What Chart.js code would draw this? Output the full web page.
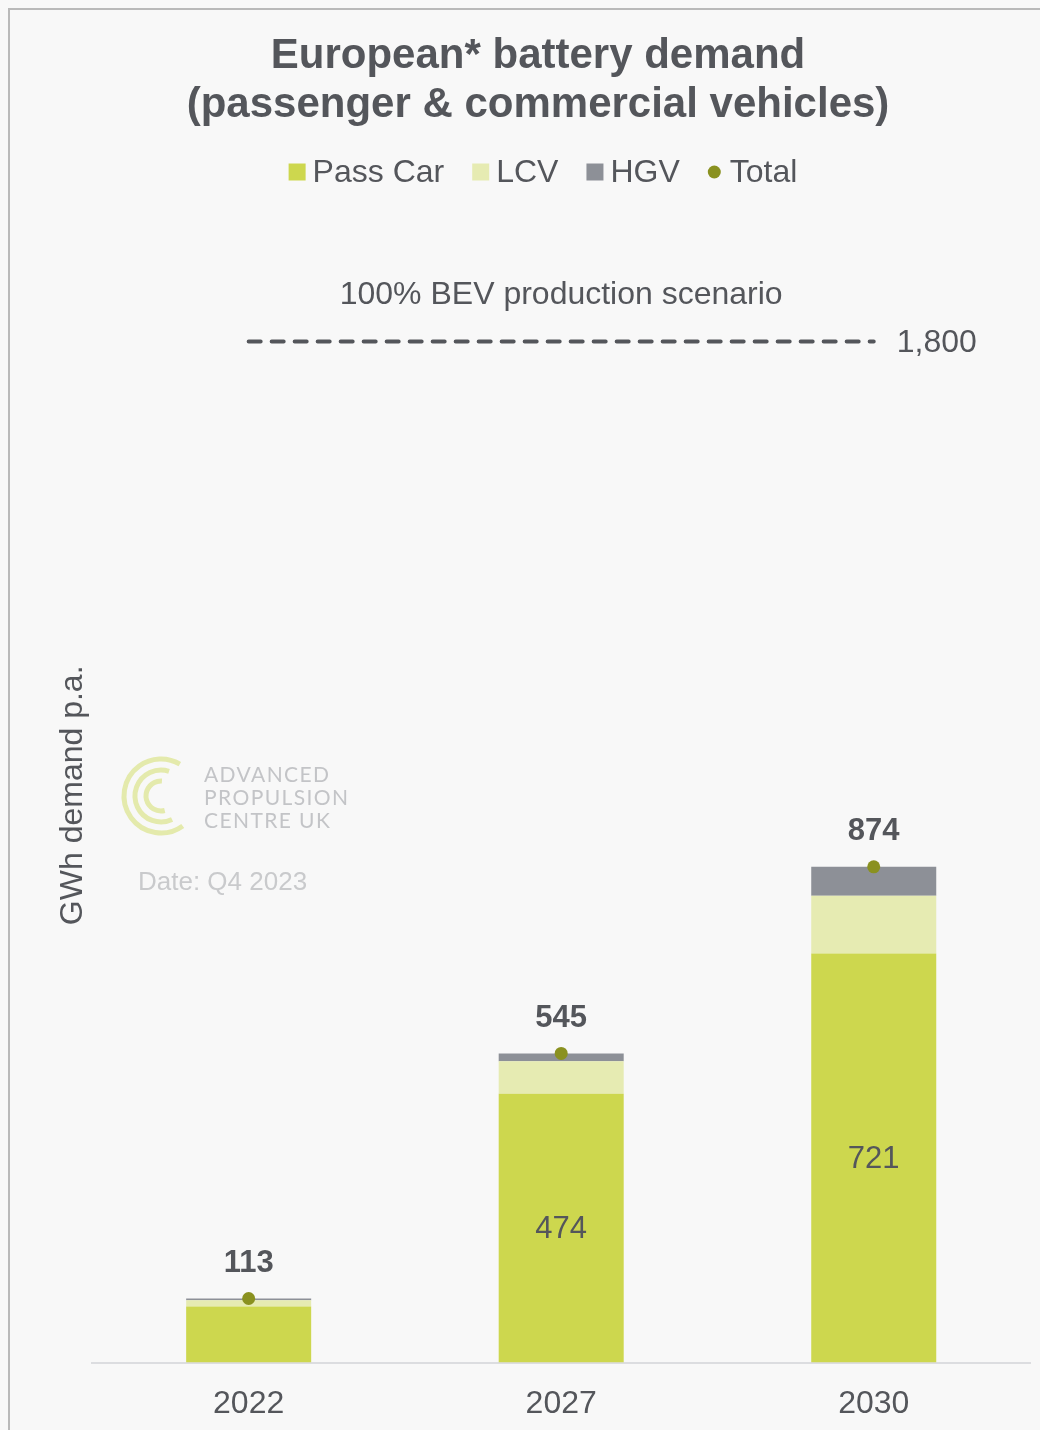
<!DOCTYPE html>
<html>
<head>
<meta charset="utf-8">
<script src="https://cdn.jsdelivr.net/npm/chart.js@4.4.0/dist/chart.umd.min.js"></script>
<style>
  html, body { margin: 0; padding: 0; background: #f8f8f8; }
  #wrap { width: 1040px; height: 1430px; position: relative; }
  canvas { display: block; }
</style>
</head>
<body>
<div id="wrap"><canvas id="chart" width="1040" height="1430"></canvas></div>
<script>
// Battery demand, GWh per year
const years = ['2022', '2027', '2030'];
const passCar = [99, 474, 721];
const lcv = [11, 57, 102];
const hgv = [3, 14, 51];
const total = [113, 545, 874];
const bevScenario = [1800, 1800, 1800];

const seriesNames = ['Pass Car', 'LCV', 'HGV', 'Total'];
const titleLines = ['European* battery demand', '(passenger & commercial vehicles)'];
const scenarioCaption = '100% BEV production scenario';
const yAxisTitle = 'GWh demand p.a.';
const logoLines = ['ADVANCED', 'PROPULSION', 'CENTRE UK'];
const dateNote = 'Date: Q4 2023';

const TEXT = '#54565b';
const FONT = "'Liberation Sans', Arial, sans-serif";
const C_PASS = '#cdd74e';
const C_LCV = '#e6ebb2';
const C_HGV = '#8d9097';
const C_TOTAL = '#8a9120';

const fmt = v => v.toLocaleString('en-US');

const decor = {
  id: 'decor',
  beforeDraw(chart) {
    const ctx = chart.ctx;
    ctx.save();
    ctx.fillStyle = '#f8f8f8';
    ctx.fillRect(0, 0, chart.width, chart.height);
    // outer frame
    ctx.strokeStyle = '#b9b9b9';
    ctx.lineWidth = 2;
    ctx.beginPath();
    ctx.moveTo(9, chart.height + 5);
    ctx.lineTo(9, 9);
    ctx.lineTo(chart.width + 5, 9);
    ctx.stroke();
    ctx.restore();
  },
  afterDatasetsDraw(chart) {
    const ctx = chart.ctx;
    ctx.save();
    ctx.fillStyle = TEXT;
    ctx.textAlign = 'center';
    ctx.textBaseline = 'middle';
    // totals above the dots
    const totMeta = chart.getDatasetMeta(3);
    ctx.font = 'bold 31px ' + FONT;
    totMeta.data.forEach((pt, i) => {
      ctx.fillText(fmt(total[i]), pt.x, pt.y - 35);
    });
    // pass car values inside the larger bars
    const pcMeta = chart.getDatasetMeta(0);
    ctx.font = '31px ' + FONT;
    pcMeta.data.forEach((bar, i) => {
      if (passCar[i] < 200) return;
      ctx.fillText(fmt(passCar[i]), bar.x, (bar.y + bar.base) / 2 + 1);
    });
    // scenario caption and value
    const bevMeta = chart.getDatasetMeta(4);
    const mid = bevMeta.data[1];
    const last = bevMeta.data[bevMeta.data.length - 1];
    ctx.font = '32px ' + FONT;
    ctx.fillText(scenarioCaption, mid.x, mid.y - 46);
    ctx.textAlign = 'left';
    ctx.fillText(fmt(bevScenario[bevScenario.length - 1]), last.x + 23, last.y + 2);
    ctx.restore();
  },
  afterDraw(chart) {
    const ctx = chart.ctx;
    ctx.save();
    // title
    ctx.fillStyle = TEXT;
    ctx.textAlign = 'center';
    ctx.textBaseline = 'alphabetic';
    ctx.font = 'bold 42px ' + FONT;
    ctx.fillText(titleLines[0], 538, 68);
    ctx.fillText(titleLines[1], 538, 117);

    // legend
    ctx.font = '32px ' + FONT;
    const colors = [C_PASS, C_LCV, C_HGV, C_TOTAL];
    const items = seriesNames.map((n, i) => {
      const marker = i === 3 ? 13 : 17;
      return { n, c: colors[i], marker, gap: i === 3 ? 9 : 7, w: ctx.measureText(n).width };
    });
    const spacing = 28;
    const totalW = items.reduce((s, it) => s + it.marker + it.gap + it.w, 0) + spacing * (items.length - 1);
    let x = 543 - totalW / 2;
    const ly = 172;
    ctx.textAlign = 'left';
    ctx.textBaseline = 'middle';
    items.forEach((it, i) => {
      ctx.fillStyle = it.c;
      if (i === 3) {
        ctx.beginPath();
        ctx.arc(x + it.marker / 2, ly, it.marker / 2, 0, Math.PI * 2);
        ctx.fill();
      } else {
        ctx.fillRect(x, ly - 8.5, it.marker, it.marker);
      }
      x += it.marker + it.gap;
      ctx.fillStyle = TEXT;
      ctx.fillText(it.n, x, ly + 1);
      x += it.w + spacing;
    });

    // logo
    const cx = 161, cy = 796;
    ctx.strokeStyle = '#e4eaac';
    ctx.lineWidth = 5;
    const arcs = [[37, 0.30, -0.33], [26, 0.36, -0.40], [15, 0.42, -0.48]];
    arcs.forEach(([r, a0, a1]) => {
      ctx.beginPath();
      ctx.arc(cx, cy, r, Math.PI * a0, Math.PI * (2 + a1));
      ctx.stroke();
    });
    ctx.fillStyle = '#c3c4c7';
    ctx.font = '21px Lato, ' + FONT;
    ctx.letterSpacing = '1.4px';
    ctx.textBaseline = 'middle';
    logoLines.forEach((t, i) => ctx.fillText(t, 204, 775 + i * 23));
    ctx.letterSpacing = '0px';
    ctx.fillStyle = '#c9cacc';
    ctx.font = '26px ' + FONT;
    ctx.fillText(dateNote, 138, 883);
    ctx.restore();
  }
};

new Chart(document.getElementById('chart'), {
  type: 'bar',
  data: {
    labels: years,
    datasets: [
      { label: seriesNames[0], data: passCar, backgroundColor: C_PASS, stack: 'demand', order: 2 },
      { label: seriesNames[1], data: lcv, backgroundColor: C_LCV, stack: 'demand', order: 2 },
      { label: seriesNames[2], data: hgv, backgroundColor: C_HGV, stack: 'demand', order: 2 },
      { type: 'line', label: seriesNames[3], data: total, showLine: false, stack: 'total',
        pointRadius: 6.5, pointHoverRadius: 6.5, pointBackgroundColor: C_TOTAL, pointBorderWidth: 0, order: 0 },
      { type: 'line', label: 'BEV', data: bevScenario, stack: 'bev', borderColor: TEXT, borderWidth: 4,
        borderDash: [12, 11], borderCapStyle: 'round', pointRadius: 0, fill: false, order: 1 }
    ]
  },
  options: {
    responsive: false,
    animation: false,
    devicePixelRatio: 1,
    layout: { padding: { top: 228, left: 54, right: 10, bottom: -15 } },
    datasets: { bar: { categoryPercentage: 0.4, barPercentage: 1.0 } },
    plugins: { legend: { display: false }, title: { display: false }, tooltip: { enabled: false } },
    scales: {
      x: {
        stacked: true,
        grid: { display: false, drawTicks: false },
        border: { display: true, color: '#dcdde0', width: 2 },
        ticks: { color: TEXT, font: { family: FONT, size: 32 }, padding: 22 }
      },
      y: {
        stacked: true,
        min: 0,
        max: 2000,
        grid: { display: false, drawTicks: false },
        border: { display: false },
        ticks: { display: false },
        title: { display: true, text: yAxisTitle, color: TEXT, font: { family: FONT, size: 32 }, padding: 0 }
      }
    }
  },
  plugins: [decor]
});
</script>
</body>
</html>
